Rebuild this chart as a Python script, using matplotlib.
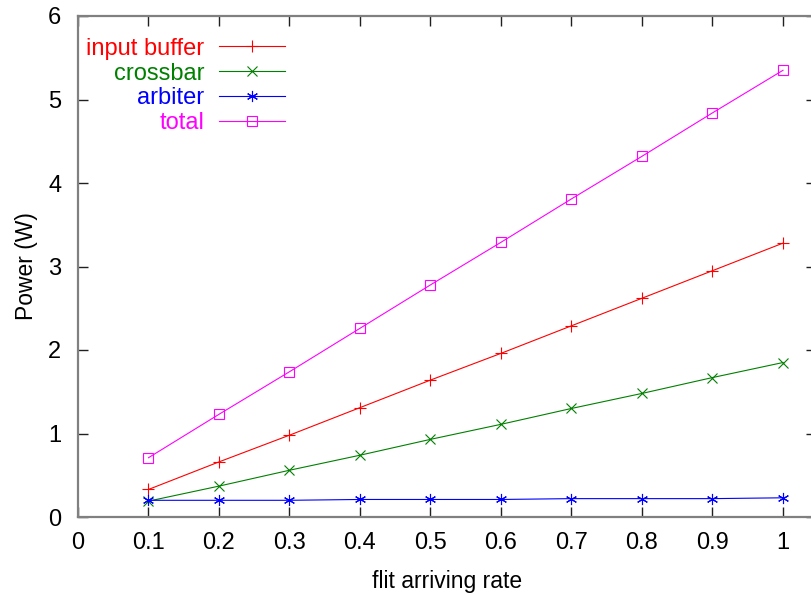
import matplotlib
matplotlib.use("Agg")
import matplotlib.pyplot as plt

# flit arriving rate vs power for each router component
rates = [0.1, 0.2, 0.3, 0.4, 0.5, 0.6, 0.7, 0.8, 0.9, 1.0]
input_buffer = [0.33, 0.66, 0.98, 1.31, 1.64, 1.96, 2.29, 2.62, 2.95, 3.28]
crossbar = [0.19, 0.37, 0.56, 0.74, 0.93, 1.11, 1.30, 1.48, 1.67, 1.85]
arbiter = [0.20, 0.20, 0.20, 0.21, 0.21, 0.21, 0.22, 0.22, 0.22, 0.23]
total = [0.71, 1.23, 1.74, 2.26, 2.78, 3.29, 3.81, 4.32, 4.84, 5.35]

series_names = ["input buffer", "crossbar", "arbiter", "total"]
x_ticks = [0, 0.1, 0.2, 0.3, 0.4, 0.5, 0.6, 0.7, 0.8, 0.9, 1]
x_tick_labels = ["0", "0.1", "0.2", "0.3", "0.4", "0.5", "0.6", "0.7", "0.8", "0.9", "1"]
y_ticks = [0, 1, 2, 3, 4, 5, 6]

plt.rcParams["font.family"] = ["Liberation Sans", "DejaVu Sans"]

fig = plt.figure(figsize=(8.12, 5.95), dpi=100)
ax = fig.add_axes([78 / 812, 78 / 595, 738 / 812, 501 / 595])

styles = [
    ("#ff0000", "+", 9, input_buffer),
    ("#008000", "x", 7, crossbar),
    ("#0000ff", (6, 2, 0), 8, arbiter),
    ("#ff00ff", "s", 6.5, total),
]
for name, (color, marker, ms, values) in zip(series_names, styles):
    ax.plot(rates, values, color=color, lw=0.8, marker=marker, ms=ms,
            mfc="none" if marker == "s" else color, mec=color, mew=0.8,
            label=name)

ax.set_xlim(0, 738 / 705)
ax.set_ylim(0, 6)
ax.set_xticks(x_ticks)
ax.set_xticklabels(x_tick_labels)
ax.set_yticks(y_ticks)
ax.tick_params(direction="in", length=7, width=1, labelsize=17,
               top=True, right=True, color="#202020")
ax.tick_params(axis="x", pad=11)
ax.tick_params(axis="y", pad=12)
for sp in ax.spines.values():
    sp.set_color("#808080")
    sp.set_linewidth(1.6)

ax.set_xlabel("flit arriving rate", fontsize=16.5, labelpad=11)
ax.set_ylabel("Power (W)", fontsize=16.5, labelpad=7)

leg = ax.legend(loc="upper left", bbox_to_anchor=(-0.008, 0.985), frameon=False,
                markerfirst=False, fontsize=17, handlelength=2.8,
                labelspacing=0.12, handletextpad=0.6, borderaxespad=0.2,
                labelcolor="linecolor")
for t in leg.get_texts():
    t.set_ha("right")

fig.savefig("out.png", dpi=100)
